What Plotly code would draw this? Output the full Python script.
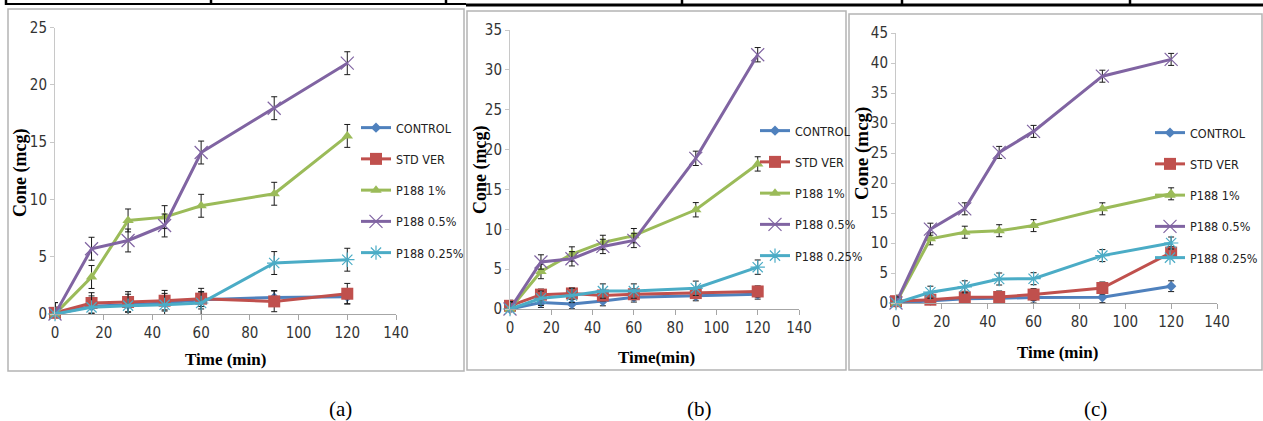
import plotly.graph_objects as go

# ---------------- data ----------------
time_min = [0, 15, 30, 45, 60, 90, 120]
series_names = ["CONTROL", "STD VER", "P188 1%", "P188 0.5%", "P188 0.25%"]
panel_labels = ["(a)", "(b)", "(c)"]
x_titles = ["Time (min)", "Time(min)", "Time (min)"]
y_title = "Cone (mcg)"
x_ticks = [0, 20, 40, 60, 80, 100, 120, 140]
y_max = [25, 35, 45]

conc_a_control = [0.0, 0.67, 0.80, 0.96, 1.25, 1.45, 1.50]
conc_a_stdver = [0.1, 0.96, 1.05, 1.16, 1.34, 1.10, 1.77]
conc_a_p188_1 = [0.0, 3.23, 8.17, 8.46, 9.45, 10.5, 15.55]
conc_a_p188_05 = [0.0, 5.70, 6.42, 7.73, 14.1, 17.97, 21.9]
conc_a_p188_025 = [0.0, 0.58, 0.73, 0.80, 0.96, 4.45, 4.74]
err_a = [0.6, 0.9, 1.0, 1.0, 1.0]

conc_b_control = [0.0, 0.80, 0.63, 1.00, 1.47, 1.63, 1.84]
conc_b_stdver = [0.4, 1.80, 1.95, 1.70, 1.85, 2.00, 2.20]
conc_b_p188_1 = [0.0, 4.70, 6.90, 8.35, 9.20, 12.45, 18.2]
conc_b_p188_05 = [0.0, 5.90, 6.30, 7.85, 8.60, 18.9, 31.9]
conc_b_p188_025 = [0.0, 1.35, 1.70, 2.25, 2.25, 2.60, 5.25]
err_b = [0.6, 0.7, 0.9, 0.9, 0.9]

conc_c_control = [0.0, 0.40, 0.70, 0.80, 0.90, 0.95, 2.80]
conc_c_stdver = [0.3, 0.55, 0.95, 1.00, 1.40, 2.50, 8.40]
conc_c_p188_1 = [0.0, 10.7, 11.8, 12.05, 12.9, 15.7, 18.2]
conc_c_p188_05 = [0.0, 12.3, 15.7, 25.1, 28.6, 37.8, 40.6]
conc_c_p188_025 = [0.0, 1.80, 2.70, 4.00, 4.05, 7.90, 10.0]
err_c = [0.9, 1.0, 1.0, 1.0, 1.0]

panels = [
    [conc_a_control, conc_a_stdver, conc_a_p188_1, conc_a_p188_05, conc_a_p188_025],
    [conc_b_control, conc_b_stdver, conc_b_p188_1, conc_b_p188_05, conc_b_p188_025],
    [conc_c_control, conc_c_stdver, conc_c_p188_1, conc_c_p188_05, conc_c_p188_025],
]
panel_errs = [err_a, err_b, err_c]

# ---------------- style ----------------
W, H = 1263, 421
colors = ["#4F81BD", "#C0504D", "#9BBB59", "#8064A2", "#4BACC6"]
symbols = ["diamond", "square", "triangle-up", "x-thin-open", "asterisk-open"]
msizes = [8, 12, 10, 13, 12]
NARROW = "Liberation Sans Narrow, DejaVu Sans Condensed, Arial Narrow, sans-serif"
SERIF = "Liberation Serif, Times New Roman, serif"

# plot-area pixel boxes: (x0, x_end(140), y_top(max), y_zero)
areas = [(55, 396, 27.7, 314), (510, 799, 30, 309), (896, 1217, 33, 303)]
legend_pos = [(356, 113), (755, 116), (1150, 118)]
ytitle_pos = [(20, 173, 18), (480, 170, 18), (862, 154, 19)]
xtitle_pos = [(225, 359), (656, 357), (1057, 352)]
caption_pos = [(340, 409), (699, 409), (1095, 409)]
boxes = [(8, 9, 464, 371), (467, 11, 846, 370), (849, 14, 1262, 370)]


def px(x):
    return x / W


def py(y):
    return 1 - y / H


fig = go.Figure()
legend_keys = ["legend", "legend2", "legend3"]

for p, series in enumerate(panels):
    ax = "" if p == 0 else str(p + 1)
    for i, vals in enumerate(series):
        is_line_marker = symbols[i] in ("x-thin-open", "asterisk-open")
        marker = dict(symbol=symbols[i], size=msizes[i], color=colors[i])
        if is_line_marker:
            marker["line"] = dict(color=colors[i], width=1.2)
        else:
            marker["line"] = dict(width=0)
        fig.add_trace(go.Scatter(
            x=time_min, y=vals, name=series_names[i],
            mode="lines+markers",
            line=dict(color=colors[i], width=3),
            marker=marker,
            error_y=dict(type="constant", value=panel_errs[p][i], visible=True,
                         color="#1a1a1a", thickness=1, width=3),
            xaxis="x" + ax, yaxis="y" + ax,
            legend=legend_keys[p], legendgroup=f"{p}-{i}",
            cliponaxis=False,
        ))

layout = dict(
    width=W, height=H,
    margin=dict(l=0, r=0, t=0, b=0, autoexpand=False),
    paper_bgcolor="white", plot_bgcolor="white",
    showlegend=True,
)

for p, (x0, x1, yt, yz) in enumerate(areas):
    ax = "" if p == 0 else str(p + 1)
    layout["xaxis" + ax] = dict(
        domain=[px(x0), px(x1)], range=[0, 140], tickvals=x_ticks,
        anchor="y" + ax, showgrid=False, zeroline=False, automargin=False,
        showline=True, linecolor="#A6A6A6", linewidth=1,
        ticks="outside", ticklen=5, tickcolor="#A6A6A6",
        tickfont=dict(family=NARROW, size=15, color="#333333"),
        fixedrange=True,
    )
    layout["yaxis" + ax] = dict(
        domain=[py(yz), py(yt)], range=[0, y_max[p]], dtick=5, tick0=0,
        anchor="x" + ax, showgrid=False, zeroline=False, automargin=False,
        showline=True, linecolor="#C8C8C8", linewidth=1,
        ticks="outside", ticklen=4, tickcolor="#C8C8C8",
        tickfont=dict(family=NARROW, size=15, color="#333333"),
        fixedrange=True,
    )
    lx, ly = legend_pos[p]
    layout[legend_keys[p]] = dict(
        x=px(lx), y=py(ly), xanchor="left", yanchor="top",
        xref="container", yref="container",
        bgcolor="rgba(0,0,0,0)", borderwidth=0,
        font=dict(family=NARROW, size=12.5, color="#222222"),
        itemwidth=30, tracegroupgap=12, traceorder="grouped",
    )

annotations = []
for p in range(3):
    tx, ty, fs = ytitle_pos[p]
    annotations.append(dict(
        x=px(tx), y=py(ty), xref="paper", yref="paper", text="<b>" + y_title + "</b>",
        textangle=-90, showarrow=False, xanchor="center", yanchor="middle",
        font=dict(family=SERIF, size=fs, color="black")))
    tx, ty = xtitle_pos[p]
    annotations.append(dict(
        x=px(tx), y=py(ty), xref="paper", yref="paper", text="<b>" + x_titles[p] + "</b>",
        showarrow=False, xanchor="center", yanchor="middle",
        font=dict(family=SERIF, size=17, color="black")))
    tx, ty = caption_pos[p]
    annotations.append(dict(
        x=px(tx), y=py(ty), xref="paper", yref="paper", text=panel_labels[p],
        showarrow=False, xanchor="center", yanchor="middle",
        font=dict(family=SERIF, size=21, color="black")))
layout["annotations"] = annotations

shapes = []
for (bx0, by0, bx1, by1) in boxes:
    shapes.append(dict(type="rect", xref="paper", yref="paper",
                       x0=px(bx0), y0=py(by1), x1=px(bx1), y1=py(by0),
                       line=dict(color="#B4B4B4", width=1.5), layer="below"))
# table rule at the very top
shapes.append(dict(type="line", xref="paper", yref="paper",
                   x0=px(5), x1=px(466), y0=py(4), y1=py(4),
                   line=dict(color="black", width=2)))
shapes.append(dict(type="line", xref="paper", yref="paper",
                   x0=px(466), x1=px(1263), y0=py(5), y1=py(5),
                   line=dict(color="black", width=3)))
for vx in [6, 211, 446, 682, 902, 1130]:
    shapes.append(dict(type="line", xref="paper", yref="paper",
                       x0=px(vx), x1=px(vx), y0=py(0), y1=py(5),
                       line=dict(color="black", width=2.5)))
layout["shapes"] = shapes

fig.update_layout(**layout)
fig.write_html(
    "out.html",
    config={"displayModeBar": False},
    post_script="document.body.style.margin='0';document.body.style.overflow='hidden';",
)
